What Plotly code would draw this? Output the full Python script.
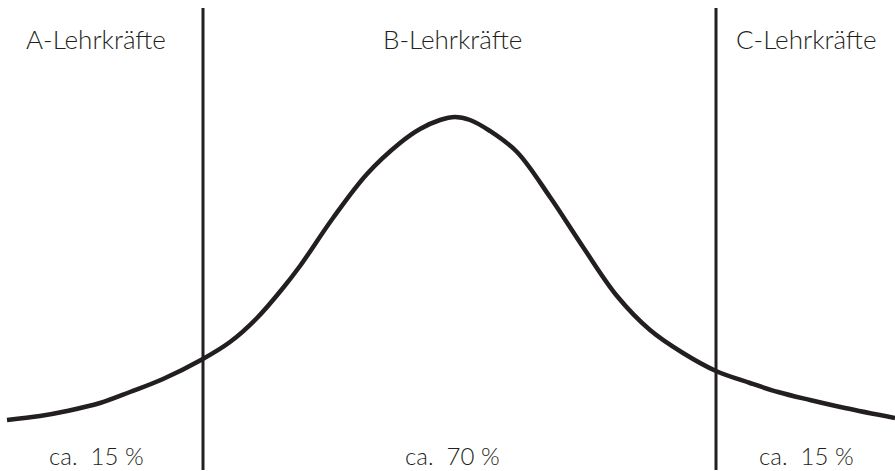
import plotly.graph_objects as go

# Curve (x position, height above the bottom edge)
curve_x = [7, 40, 67, 100, 130, 163, 201, 230, 257, 283, 300, 333, 367, 400,
           420, 440, 455, 470, 490, 517, 550, 583, 617, 650, 683, 716, 750,
           778, 810, 845, 895]
curve_y = [51, 55, 60, 68, 79, 92, 111, 129, 153, 183, 205, 253, 297, 328,
           342, 351, 354, 351, 340, 319, 274, 224, 175, 141, 118, 100, 88,
           79, 71, 63, 53]

# Group boundaries and labels
boundaries = [203, 716]
boundary_span = [1, 463]
label_x = [96, 452, 806]
top_labels = ["A-Lehrkräfte", "B-Lehrkräfte", "C-Lehrkräfte"]
bottom_labels = ["ca.\u00a0\u00a015\u00a0%", "ca.\u00a0\u00a070\u00a0%", "ca.\u00a0\u00a015\u00a0%"]

INK = '#231f20'

fig = go.Figure()

for bx in boundaries:
    fig.add_trace(go.Scatter(
        x=[bx, bx], y=boundary_span, mode='lines',
        line=dict(color=INK, width=3), hoverinfo='skip', showlegend=False
    ))

fig.add_trace(go.Scatter(
    x=curve_x, y=curve_y, mode='lines',
    line=dict(color=INK, width=4.5, shape='spline', smoothing=1.0),
    showlegend=False
))

top_font = dict(size=26, color=INK, family='Lato', weight=300)
bottom_font = dict(size=24, color=INK, family='Lato', weight=300)
for lx, top, bottom in zip(label_x, top_labels, bottom_labels):
    fig.add_annotation(x=lx, y=432, text=top, showarrow=False, font=top_font)
    fig.add_annotation(x=lx, y=16, text=bottom, showarrow=False, font=bottom_font)

fig.update_layout(
    width=895, height=471,
    margin=dict(l=0, r=0, t=0, b=0),
    plot_bgcolor='white', paper_bgcolor='white',
    xaxis=dict(range=[0, 895], visible=False, fixedrange=True),
    yaxis=dict(range=[0, 471], visible=False, fixedrange=True),
)

# page body has an 8px default margin; drop it so the figure sits at 0,0
fig.write_html("out.html", config={'displayModeBar': False},
               post_script="document.body.style.margin='0px';")
